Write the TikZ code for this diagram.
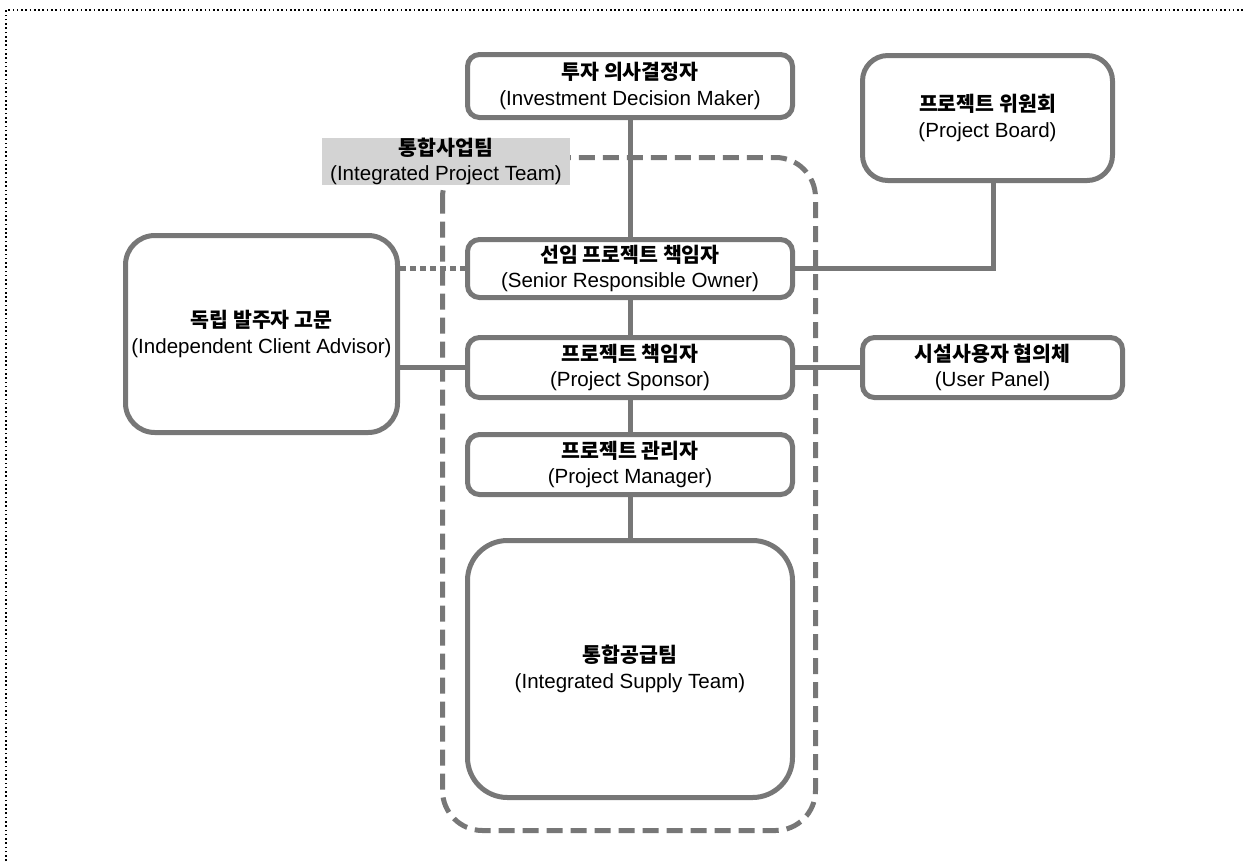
\documentclass[tikz,border=0pt]{standalone}
\usepackage{fontspec}
\setmainfont{Liberation Sans}
\newfontfamily\kr{Noto Sans CJK KR}
\definecolor{gc}{HTML}{777777}
\definecolor{lblfill}{HTML}{D3D3D3}
\begin{document}
\begin{tikzpicture}[x=0.75pt,y=-0.75pt,
  every node/.style={font=\fontsize{15.4}{19}\selectfont, align=center, inner sep=0pt},
  box/.style={draw=gc, line width=3.75pt, rounded corners=9pt, minimum width=325*0.75pt},
  bigbox/.style={draw=gc, line width=3.75pt},
  conn/.style={draw=gc, line width=3.75pt},
  dotconn/.style={draw=gc, line width=3.75pt, dash pattern=on 4.5pt off 3pt},
  team/.style={draw=gc, line width=3.75pt, dash pattern=on 12pt off 6pt, rounded corners=30pt},
  lbl/.style={fill=lblfill, minimum width=248*0.75pt, minimum height=47*0.75pt}]
\useasboundingbox (0,0) rectangle (1243,861);
\draw[dotted, line width=1.2pt] (6,861) -- (6,10) -- (1243,10);

% team boundary
\draw[team] (442.5,157.5) rectangle (815.5,830.5);

\node[box, minimum height=63*0.75pt] (idm) at (630,86) {{\kr\bfseries 투자 의사결정자}\\(Investment Decision Maker)};
\node[bigbox, rounded corners=19pt, minimum width=250*0.75pt, minimum height=125*0.75pt] (pb) at (987.5,118) {{\kr\bfseries 프로젝트 위원회}\\(Project Board)};
\node[lbl] (ipt) at (446,161.5) {{\kr\bfseries 통합사업팀}\\(Integrated Project Team)};
\node[box, minimum height=58*0.75pt] (sro) at (630,268.5) {{\kr\bfseries 선임 프로젝트 책임자}\\(Senior Responsible Owner)};
\node[bigbox, rounded corners=22pt, minimum width=272*0.75pt, minimum height=197*0.75pt] (ica) at (261.5,334) {{\kr\bfseries 독립 발주자 고문}\\(Independent Client Advisor)};
\node[box, minimum height=60*0.75pt] (ps) at (630,367.5) {{\kr\bfseries 프로젝트 책임자}\\(Project Sponsor)};
\node[box, minimum width=260*0.75pt, minimum height=60*0.75pt] (up) at (992.5,367.5) {{\kr\bfseries 시설사용자 협의체}\\(User Panel)};
\node[box, minimum height=60*0.75pt] (pm) at (630,464.5) {{\kr\bfseries 프로젝트 관리자}\\(Project Manager)};
\node[bigbox, rounded corners=30pt, minimum width=325*0.75pt, minimum height=257*0.75pt] (ist) at (630,669) {{\kr\bfseries 통합공급팀}\\(Integrated Supply Team)};

\coordinate (pbc) at (993,268.5);
\draw[conn] (idm.south) -- (sro.north);
\draw[conn] (sro.east) -- (pbc) -- (pbc |- pb.south);
\draw[dotconn] (ica.east |- sro.west) -- (sro.west);
\draw[conn] (sro.south) -- (ps.north);
\draw[conn] (ica.east |- ps.west) -- (ps.west);
\draw[conn] (ps.east) -- (up.west);
\draw[conn] (ps.south) -- (pm.north);
\draw[conn] (pm.south) -- (ist.north);
\end{tikzpicture}
\end{document}
